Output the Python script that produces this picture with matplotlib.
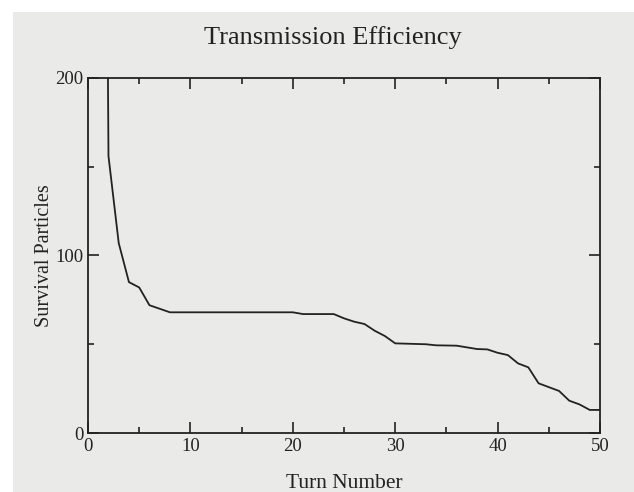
import numpy as np
import matplotlib.pyplot as plt
from matplotlib.patches import Rectangle
from matplotlib.ticker import MultipleLocator

# survival particles (turn 1 is far above the 200 limit)
turns = [1, 2, 3, 4, 5, 6, 8, 20, 21, 24, 25, 26, 27, 28, 29, 30, 33, 34, 36,
         38, 39, 40, 41, 42, 43, 44, 46, 47, 48, 49, 50]
particles = [1000, 156, 107, 85, 82, 72, 68, 68, 67, 67, 64.6, 62.7, 61.4, 57.6,
             54.6, 50.5, 50, 49.4, 49.2, 47.3, 47.1, 45.2, 43.9, 39.2, 37, 28,
             23.7, 18.2, 16.1, 13, 13]

paper = '#eaeae9'
ink = '#222222'

plt.rcParams['font.family'] = ['Liberation Serif', 'DejaVu Serif']

fig = plt.figure(figsize=(6.34, 4.92), dpi=100, facecolor=paper)
# white margins of the scan
fig.patches.append(Rectangle((0, 0.975), 1, 0.025, transform=fig.transFigure,
                             facecolor='white', edgecolor='none', zorder=-1))
fig.patches.append(Rectangle((0, 0), 0.02, 1, transform=fig.transFigure,
                             facecolor='white', edgecolor='none', zorder=-1))

ax = fig.add_axes([0.1388, 0.1199, 0.8076, 0.7216])
ax.set_facecolor(paper)
ax.plot(turns, particles, color=ink, lw=1.3)

ax.set_xlim(0, 50)
ax.set_ylim(0, 200)
ax.xaxis.set_major_locator(MultipleLocator(10))
ax.xaxis.set_minor_locator(MultipleLocator(5))
ax.yaxis.set_major_locator(MultipleLocator(100))
ax.yaxis.set_minor_locator(MultipleLocator(50))
ax.tick_params(which='both', direction='in', top=True, right=True, color=ink,
               width=1.2, labelsize=13.5, labelcolor=ink)
ax.tick_params(which='major', length=8)
ax.tick_params(which='minor', length=4)
for s in ax.spines.values():
    s.set_linewidth(1.3)
    s.set_color(ink)

ax.set_xlabel('Turn Number', fontsize=15.5, color=ink, labelpad=14)
ax.set_ylabel('Survival Particles', fontsize=14.5, color=ink, labelpad=1)
fig.text(333 / 634, 1 - 38 / 492, 'Transmission Efficiency', fontsize=19,
         color=ink, ha='center', va='center')

plt.savefig('out.png', dpi=100, facecolor=paper)
